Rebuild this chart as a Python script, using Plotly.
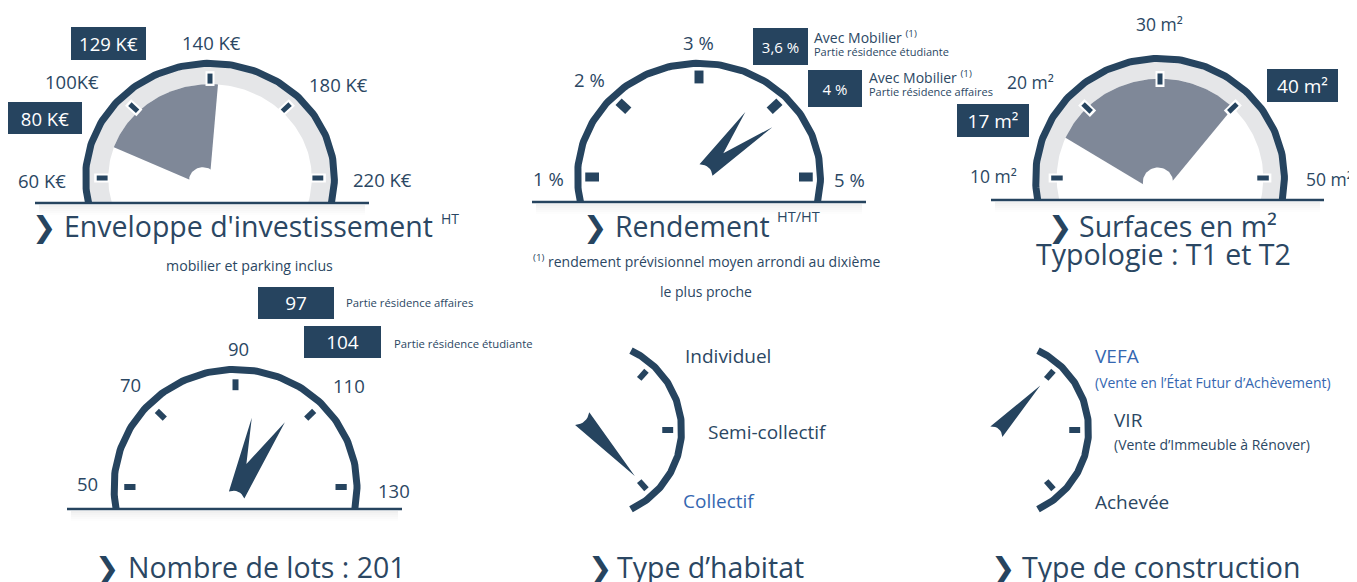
import math
import plotly.graph_objects as go

W, H = 1357, 582
PAGE_OFFSET = 8  # default body margin of the html page
DARK = "#26445f"
TEXT = "#2b4763"
BLUE = "#3567b1"
BAND = "#e5e6e8"
SECTOR = "#7f8898"
FONT = "Open Sans"

# ---------------- data ----------------
invest_ticks = [60, 100, 140, 180, 220]
invest_labels = ["60 K€", "100K€", "140 K€", "180 K€", "220 K€"]
invest_sector = [77, 144]
invest_boxes = ["129 K€", "80 K€"]

yield_ticks = [1, 2, 3, 4, 5]
yield_labels = ["1 %", "2 %", "3 %", "", "5 %"]
yield_needles = [3.75, 4.2]
yield_boxes = ["3,6 %", "4 %"]
yield_box_titles = ["Avec Mobilier", "Avec Mobilier"]
yield_box_notes = ["Partie résidence étudiante", "Partie résidence affaires"]

surface_ticks = [10, 20, 30, 40, 50]
surface_labels = ["10 m²", "20 m²", "30 m²", "", "50 m²"]
surface_sector = [15.3, 40]
surface_boxes = ["17 m²", "40 m²"]

lots_ticks = [50, 70, 90, 110, 130]
lots_labels = ["50", "70", "90", "110", "130"]
lots_needles = [95.7, 106.2]
lots_boxes = ["97", "104"]
lots_box_notes = ["Partie résidence affaires", "Partie résidence étudiante"]
lots_total = 201

habitat_types = ["Individuel", "Semi-collectif", "Collectif"]
habitat_selected = "Collectif"

construction_types = ["VEFA", "VIR", "Achevée"]
construction_notes = ["(Vente en l’État Futur d’Achèvement)", "(Vente d’Immeuble à Rénover)", ""]
construction_selected = "VEFA"

# ---------------- geometry / style ----------------
GEOM = {
    "invest": dict(cx=210, cy=178, rx=128, ry=118, base=25, lo=60, hi=220),
    "yield": dict(cx=699, cy=177, rx=125, ry=117, base=25, lo=1, hi=5),
    "surface": dict(cx=1160, cy=178, rx=128, ry=123, base=22, lo=10, hi=50),
    "lots": dict(cx=235.5, cy=487, rx=125, ry=121, base=22, lo=50, hi=130),
    "habitat": dict(cx=594, cy=430, rx=91, ry=91),
    "construction": dict(cx=1001, cy=430, rx=91, ry=91),
}
CAT_ANGLES = [48.5, 0, -48.5]
SIDE_ARC = 65

fig = go.Figure()


def val2ang(g, v):
    return 180.0 * (g["hi"] - v) / (g["hi"] - g["lo"])


def to_px(g, u, v):
    return g["cx"] + u * g["rx"], g["cy"] - v * g["ry"]


def pol(ang, r, off=(0.0, 0.0)):
    a = math.radians(ang)
    return off[0] + r * math.cos(a), off[1] + r * math.sin(a)


def base_angle(g, r):
    return -math.degrees(math.asin(min(1.0, g["base"] / (r * g["ry"]))))


def arc_pts(g, r, a0, a1, n=140, off=(0.0, 0.0)):
    xs, ys = [], []
    for i in range(n + 1):
        u, v = pol(a0 + (a1 - a0) * i / n, r, off)
        x, y = to_px(g, u, v)
        xs.append(x)
        ys.append(y)
    return xs, ys


def poly(xs, ys, color):
    fig.add_trace(go.Scatter(x=xs, y=ys, mode="lines", fill="toself", fillcolor=color,
                             line=dict(width=0, color=color), hoverinfo="skip", showlegend=False))


def line(xs, ys, color, width):
    fig.add_trace(go.Scatter(x=xs, y=ys, mode="lines", line=dict(color=color, width=width),
                             hoverinfo="skip", showlegend=False))


def half_arc(g, r, width):
    a0 = base_angle(g, r)
    xs, ys = arc_pts(g, r, a0, 180 - a0)
    line(xs, ys, DARK, width)


def band(g, r_in, r_out):
    a0o = base_angle(g, r_out)
    a0i = base_angle(g, r_in)
    xo, yo = arc_pts(g, r_out, a0o, 180 - a0o)
    xi, yi = arc_pts(g, r_in, 180 - a0i, a0i)
    poly(xo + xi, yo + yi, BAND)


def ticks(g, angles, r0, r1, width, border=0):
    if border:
        xs, ys = [], []
        for a in angles:
            for r in (r0 - 0.02, r1 + 0.02):
                x, y = to_px(g, *pol(a, r))
                xs.append(x)
                ys.append(y)
            xs.append(None)
            ys.append(None)
        line(xs, ys, "white", width + border)
    xs, ys = [], []
    for a in angles:
        for r in (r0, r1):
            x, y = to_px(g, *pol(a, r))
            xs.append(x)
            ys.append(y)
        xs.append(None)
        ys.append(None)
    line(xs, ys, DARK, width)


def sector(g, v0, v1, r_out, apex, hub_off, hub_r):
    a0, a1 = val2ang(g, v0), val2ang(g, v1)
    xs, ys = arc_pts(g, r_out, a0, a1, 80)
    ax, ay = to_px(g, *apex)
    poly([ax] + xs + [ax], [ay] + ys + [ay], SECTOR)
    hx, hy = arc_pts(g, hub_r, 0, 360, 60, off=hub_off)
    poly(hx, hy, "white")


def curve_back(start, end, d, depth, n=8):
    pts = []
    for i in range(1, n):
        t = i / n
        k = 4 * t * (1 - t) * depth
        pts.append((start[0] + t * (end[0] - start[0]) + k * d[0],
                    start[1] + t * (end[1] - start[1]) + k * d[1]))
    return pts


def double_needle(g, a1, a2, L1, L2, notch_r, base_off, half_w, depth=0.03):
    am = (a1 + a2) / 2
    d = pol(am, 1)
    p = (-d[1], d[0])
    Lb = (base_off[0] + half_w * p[0], base_off[1] + half_w * p[1])
    Rb = (base_off[0] - half_w * p[0], base_off[1] - half_w * p[1])
    pts = [Lb, pol(a1, L1), pol(am, notch_r), pol(a2, L2), Rb] + curve_back(Rb, Lb, d, depth) + [Lb]
    px = [to_px(g, u, v) for u, v in pts]
    poly([q[0] for q in px], [q[1] for q in px], DARK)


def single_needle(g, a, L, base_off, half_w, depth=0.04):
    d = pol(a, 1)
    p = (-d[1], d[0])
    Lb = (base_off[0] + half_w * p[0], base_off[1] + half_w * p[1])
    Rb = (base_off[0] - half_w * p[0], base_off[1] - half_w * p[1])
    pts = [Lb, pol(a, L), Rb] + curve_back(Rb, Lb, d, depth) + [Lb]
    px = [to_px(g, u, v) for u, v in pts]
    poly([q[0] for q in px], [q[1] for q in px], DARK)


def baseline(g, x0, x1):
    y = g["cy"] + g["base"]
    for k, alpha in enumerate([0.06, 0.045, 0.03, 0.018, 0.008]):
        line([x0 + 4, x1 - 4], [y + 3 + 2 * k, y + 3 + 2 * k], f"rgba(0,0,0,{alpha})", 2)
    line([x0, x1], [y, y], DARK, 2.5)


def text(x, y, s, size, color=TEXT, xanchor="center", family=FONT):
    fig.add_annotation(x=x, y=y, xref="x", yref="y", text=s, showarrow=False,
                       font=dict(family=family, size=size, color=color),
                       xanchor=xanchor, yanchor="middle")


def box(x0, y0, x1, y1, s, size):
    fig.add_annotation(x=(x0 + x1) / 2, y=(y0 + y1) / 2, xref="x", yref="y", text=s,
                       showarrow=False, width=x1 - x0, height=y1 - y0, bgcolor=DARK,
                       borderpad=0, borderwidth=0, align="center", valign="middle",
                       font=dict(family=FONT, size=size, color="white"))


def title(xchev, xtext, ymid, s, size=28.5):
    text(xchev, ymid + 1, "❯", 29, DARK, "center", "DejaVu Sans")
    text(xtext, ymid, s, size, TEXT, "left")


# ---------- Gauge 1: investissement ----------
g = GEOM["invest"]
band(g, 0.795, 0.96)
sector(g, invest_sector[0], invest_sector[1], 0.795, (-0.008, -0.085), (-0.055, -0.017), 0.108)
half_arc(g, 0.972, 7)
ticks(g, [val2ang(g, v) for v in invest_ticks], 0.80, 0.885, 5, border=4)
baseline(g, 35, 369)
for s, (x, y) in zip(invest_labels, [(42, 180), (72, 81), (211, 42), (338, 84), (382, 179)]):
    text(x, y, s, 18.5)
box(71, 27, 146, 60, invest_boxes[0], 18.5)
box(8, 102, 82, 134, invest_boxes[1], 18.5)
title(44, 62, 226, "Enveloppe d'investissement")
text(439, 218, "HT", 14, TEXT, "left")
text(249, 265, "mobilier et parking inclus", 14.2)

# ---------- Gauge 2: rendement ----------
g = GEOM["yield"]
half_arc(g, 0.972, 7)
ticks(g, [val2ang(g, v) for v in yield_ticks], 0.80, 0.91, 9)
double_needle(g, val2ang(g, yield_needles[0]), val2ang(g, yield_needles[1]), 0.667, 0.725,
              0.281, (0.056, 0.06), 0.072)
baseline(g, 532, 866)
for s, (x, y) in zip(yield_labels, [(548, 178), (589, 79), (698, 42), (0, 0), (849, 179)]):
    if s:
        text(x, y, s, 18.5)
box(753, 28, 808, 65, yield_boxes[0], 15)
box(808, 70, 862, 107, yield_boxes[1], 15)
text(812, 37, yield_box_titles[0] + " <sup>(1)</sup>", 14, TEXT, "left")
text(812, 51, yield_box_notes[0], 11, TEXT, "left")
text(867, 77, yield_box_titles[1] + " <sup>(1)</sup>", 14, TEXT, "left")
text(867, 91, yield_box_notes[1], 11, TEXT, "left")
title(595, 613, 226, "Rendement")
text(775, 216, "HT/HT", 14.5, TEXT, "left")
text(706, 261, "<sup>(1)</sup> rendement prévisionnel moyen arrondi au dixième", 14)
text(706, 291, "le plus proche", 14)

# ---------- Gauge 3: surfaces ----------
g = GEOM["surface"]
band(g, 0.807, 0.96)
sector(g, surface_sector[0], surface_sector[1], 0.807, (0.008, -0.138), (-0.016, -0.033), 0.118)
half_arc(g, 0.972, 7)
ticks(g, [val2ang(g, v) for v in surface_ticks], 0.76, 0.85, 5, border=4)
baseline(g, 991, 1324)
for s, (x, y) in zip(surface_labels, [(993, 176), (1030, 82), (1159, 24), (0, 0), (1329, 179)]):
    if s:
        text(x, y, s, 17.5)
box(957, 104, 1029, 137, surface_boxes[0], 19)
box(1267, 69, 1338, 102, surface_boxes[1], 19)
title(1060, 1077, 226, "Surfaces en m²")
text(1163, 254, "Typologie : T1 et T2", 28.5)

# ---------- Gauge 4: lots ----------
g = GEOM["lots"]
half_arc(g, 0.972, 7)
ticks(g, [val2ang(g, v) for v in lots_ticks], 0.80, 0.89, 6)
double_needle(g, val2ang(g, lots_needles[0]), val2ang(g, lots_needles[1]), 0.587, 0.665,
              0.209, (0.009, -0.066), 0.068)
baseline(g, 67, 402)
for s, (x, y) in zip(lots_labels, [(87, 483), (130, 384), (238, 348), (349, 385), (394, 490)]):
    text(x, y, s, 18.5)
box(258, 287, 334, 319, lots_boxes[0], 19)
box(304, 326, 381, 358, lots_boxes[1], 19)
text(344, 302, lots_box_notes[0], 11.3, TEXT, "left")
text(392, 343, lots_box_notes[1], 11.3, TEXT, "left")
title(107, 126, 567, f"Nombre de lots : {lots_total}")

# ---------- Gauge 5: habitat ----------
g = GEOM["habitat"]
xs, ys = arc_pts(g, 0.962, -SIDE_ARC, SIDE_ARC)
line(xs, ys, DARK, 7)
ticks(g, CAT_ANGLES, 0.75, 0.87, 6)
sel = CAT_ANGLES[habitat_types.index(habitat_selected)]
single_needle(g, sel, 0.676, (-0.13, 0.125), 0.104)
for s, (x, y) in zip(habitat_types, [(683, 356), (706, 432), (681, 501)]):
    text(x, y, s, 19, BLUE if s == habitat_selected else TEXT, "left")
title(600, 615, 567, "Type d’habitat")

# ---------- Gauge 6: construction ----------
g = GEOM["construction"]
xs, ys = arc_pts(g, 0.962, -SIDE_ARC, SIDE_ARC)
line(xs, ys, DARK, 7)
ticks(g, CAT_ANGLES, 0.75, 0.87, 6)
sel = CAT_ANGLES[construction_types.index(construction_selected)]
single_needle(g, sel, 0.652, (-0.051, -0.019), 0.0885)
for s, note, (x, y), (xn, yn) in zip(construction_types, construction_notes,
                                     [(1093, 356), (1112, 420), (1093, 502)],
                                     [(1093, 382), (1112, 444), (0, 0)]):
    c = BLUE if s == construction_selected else TEXT
    text(x, y, s, 19, c, "left")
    if note:
        text(xn, yn, note, 14, c, "left")
title(1003, 1020, 567, "Type de construction")

# The page body has an 8 px margin: the plot is shifted so that axis units equal page pixels.
fig.update_layout(
    width=W - PAGE_OFFSET, height=H - PAGE_OFFSET, margin=dict(l=0, r=0, t=0, b=0),
    paper_bgcolor="white", plot_bgcolor="white", showlegend=False,
    xaxis=dict(range=[PAGE_OFFSET, W], visible=False, fixedrange=True),
    yaxis=dict(range=[H, PAGE_OFFSET], visible=False, fixedrange=True),
)
fig.write_html("out.html")
